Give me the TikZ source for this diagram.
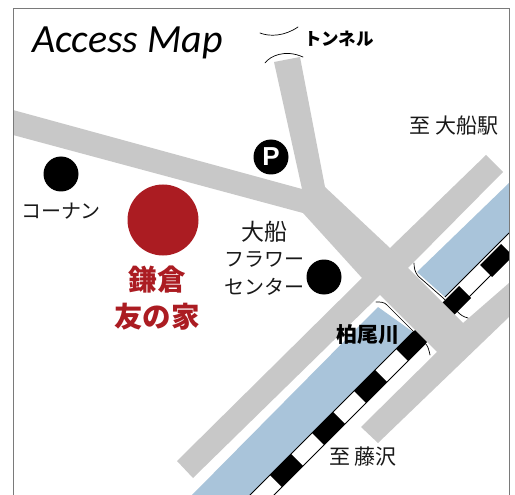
\documentclass[tikz,border=0pt]{standalone}
\usepackage{fontspec}
\setmainfont{Carlito}
\newfontfamily\cjk{Noto Sans CJK JP}
\newfontfamily\psans{Liberation Sans}
\definecolor{roadgray}{HTML}{C8C8C8}
\definecolor{riverblue}{HTML}{A9C4DA}
\definecolor{housered}{HTML}{AB1C22}
\definecolor{framegray}{HTML}{7A7A7A}
\tikzset{
  x=1pt,y=-1pt,
  road/.style={fill=roadgray,draw=none},
  river/.style={fill=riverblue,draw=none},
  sleeper/.style={fill=black,draw=none},
  railline/.style={draw=black,line width=0.9pt},
  inkline/.style={draw=black,line width=0.7pt,line cap=round},
  spot/.style={circle,fill=black,inner sep=0pt,minimum size=35pt},
  label/.style={inner sep=0pt,font=\cjk\fontsize{20}{24}\selectfont,text=black!90},
  biglabel/.style={inner sep=0pt,font=\cjk\fontsize{21}{24}\selectfont,text=black!90},
  boldlabel/.style={inner sep=0pt,font=\cjk\bfseries\fontsize{21}{24}\selectfont,text=black},
  redlabel/.style={inner sep=0pt,font=\cjk\bfseries\fontsize{28.5}{34}\selectfont,text=housered},
}
\begin{document}
\begin{tikzpicture}
\useasboundingbox (0,0) rectangle (515,495);
\begin{scope}
\clip (13.5,8.5) rectangle (509,495);
% rivers
\fill[river] (509,183) -- (417,272) -- (445,297) -- (509,233) -- cycle;
\fill[river] (378,307) -- (190,497) -- (248,497) -- (413,332) -- cycle;
% rail
\foreach \s in {234,276,318,360,402,444,486}{
  \pgfmathsetmacro{\xa}{\s}
  \pgfmathsetmacro{\xb}{\s+21}
  \fill[sleeper] ({\xa-6},{757-\xa-6}) -- ({\xa+6},{757-\xa+6}) -- ({\xb+6},{757-\xb+6}) -- ({\xb-6},{757-\xb-6}) -- cycle;
}
\draw[railline] (245,500) -- (413,332);
\draw[railline] (257,512) -- (425,344);
\draw[railline] (445,297) -- (509,233);
\draw[railline] (457,309) -- (509,257);
% roads
\fill[road] (13,110) -- (302,189) -- (274,62) -- (300,57) -- (325,187) -- (390,248)
  -- (486,155) -- (503,172) -- (408,268) -- (463,323) -- (509,283) -- (509,317)
  -- (378,443) -- (361,427) -- (437,352) -- (380,295) -- (193,478) -- (177,461)
  -- (362,278) -- (303,213) -- (13,135) -- cycle;
\end{scope}
% frame
\draw[framegray,line width=0.9pt] (13.5,496) -- (13.5,8.5) -- (509,8.5) -- (509,496);
% bridges and tunnel marks
\draw[inkline] (376,302) .. controls (381,302) and (384,302) .. (387,305) -- (413,331) -- (425,343) .. controls (428,346) and (429,350) .. (430,355);
\draw[inkline] (414,263) .. controls (414,268) and (415,272) .. (418,276) -- (442,297) -- (457,311) .. controls (460,315) and (464,317) .. (468,318);
\draw[inkline] (260,33) .. controls (270,37) and (285,36) .. (298,27);
\draw[inkline] (265,63) .. controls (270,56) and (285,49) .. (303,57);
% spots
\node[spot] (konan) at (61,174) {};
\node[spot] (flower) at (324,277) {};
\node[spot] (parking) at (271,157) {};
\node[inner sep=0pt,text=white,font=\psans\bfseries\fontsize{26}{26}\selectfont] (ptext) at (271,157) {P};
\node[circle,fill=housered,inner sep=0pt,minimum size=71pt] (house) at (163,220) {};
% texts
\node[inner sep=0pt,anchor=base west,font=\itshape\fontsize{40}{40}\selectfont,text=black] (title) at (32,53) {Access Map};
\node[boldlabel,font=\cjk\bfseries\fontsize{17.5}{20}\selectfont] (tunnel) at (339,39) {トンネル};
\node[biglabel] (ofuna) at (454,126) {至 大船駅};
\node[label] (konanlabel) at (61,211) {コーナン};
\node[label,font=\cjk\fontsize{23}{24}\selectfont] (f1) at (264,232) {大船};
\node[label] (f2) at (264,259) {フラワー};
\node[label] (f3) at (264,287) {センター};
\node[redlabel] (r1) at (157,280) {鎌倉};
\node[redlabel] (r2) at (157,317) {友の家};
\node[boldlabel] (kashio) at (368,335) {柏尾川};
\node[biglabel] (fuji) at (363,457) {至 藤沢};
\end{tikzpicture}
\end{document}
